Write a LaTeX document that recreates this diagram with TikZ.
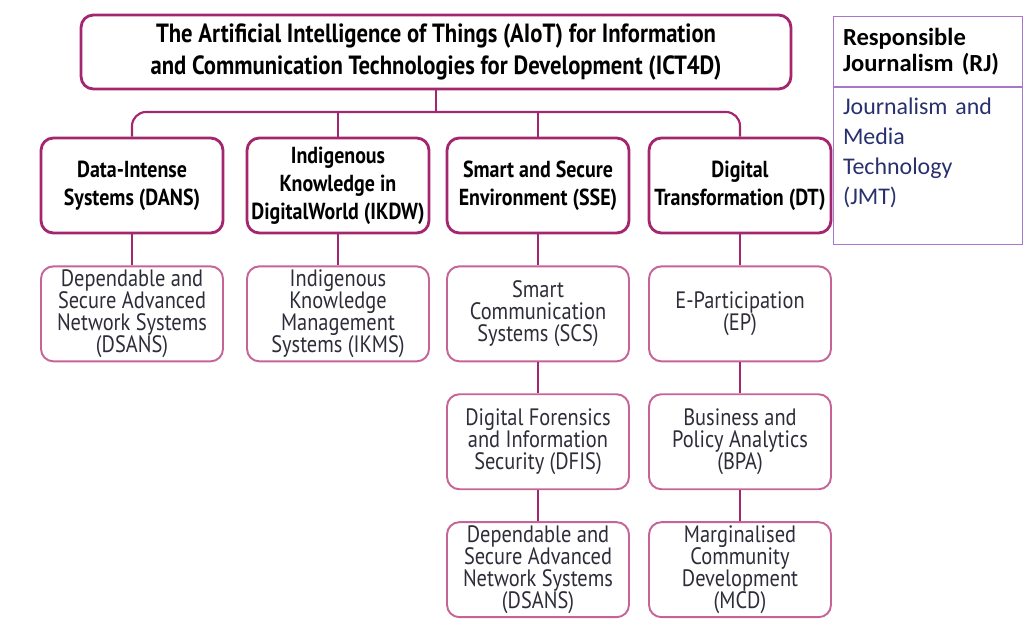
\documentclass[tikz,border=0pt]{standalone}
\usepackage{fontspec}
\setmainfont{PT Sans}[FakeStretch=0.86]
\newfontfamily\rjfont{Carlito}
\usepackage{tikz}
\usetikzlibrary{positioning}
\definecolor{plum}{RGB}{163, 38, 110}
\definecolor{lightplum}{RGB}{198, 100, 152}
\definecolor{lilac}{RGB}{165, 120, 205}
\definecolor{navy}{RGB}{40, 48, 110}
\definecolor{inkgrey}{RGB}{45, 45, 58}

\begin{document}
\begin{tikzpicture}[
  x=0.02cm, y=-0.02cm,
  node distance=0.62cm,
  mainbox/.style={rectangle, rounded corners=7pt, draw=plum, line width=1.6pt,
                  fill=white, align=center, minimum width=3.64cm,
                  minimum height=1.9cm, inner sep=2pt},
  topbox/.style={mainbox, minimum width=14.2cm, minimum height=1.48cm,
                 font=\bfseries\fontsize{15}{18.7}\selectfont},
  catbox/.style={mainbox, font=\bfseries\fontsize{13.2}{15.9}\selectfont},
  subbox/.style={mainbox, draw=lightplum, line width=1.1pt, text=inkgrey,
                 font=\fontsize{13.5}{12.5}\selectfont},
  link/.style={draw=plum, line width=1.2pt},
  rjbox/.style={rectangle, draw=lilac, line width=0.6pt, minimum width=3.78cm,
                text width=3.4cm, align=left, inner xsep=0.18cm}
]
  \useasboundingbox (0,0) rectangle (1024,628);

  %% Root
  \node[topbox] (aiot) at (436,52)
    {The Artificial Intelligence of Things (AIoT) for Information\\
     and Communication Technologies for Development (ICT4D)};

  %% Research areas
  \node[catbox] (dans) at (132,185.5) {Data-Intense\\ Systems (DANS)};
  \node[catbox] (ikdw) at (338,185.5) {Indigenous\\ Knowledge in\\ DigitalWorld (IKDW)};
  \node[catbox] (sse)  at (538,185.5) {Smart and Secure\\ Environment (SSE)};
  \node[catbox] (dt)   at (740,185.5) {Digital\\ Transformation (DT)};

  %% Research groups
  \node[subbox, below=of dans] (dsansA)
    {Dependable and\\ Secure Advanced\\ Network Systems\\ (DSANS)};
  \node[subbox, below=of ikdw] (ikms)
    {Indigenous\\ Knowledge\\ Management\\ Systems (IKMS)};
  \node[subbox, below=of sse] (scs)
    {Smart\\ Communication\\ Systems (SCS)};
  \node[subbox, below=of scs] (dfis)
    {Digital Forensics\\ and Information\\ Security (DFIS)};
  \node[subbox, below=of dfis] (dsansB)
    {Dependable and\\ Secure Advanced\\ Network Systems\\ (DSANS)};
  \node[subbox, below=of dt] (ep)
    {E-Participation\\ (EP)};
  \node[subbox, below=of ep] (bpa)
    {Business and\\ Policy Analytics\\ (BPA)};
  \node[subbox, below=of bpa] (mcd)
    {Marginalised\\ Community\\ Development\\ (MCD)};

  %% Tree connectors
  \coordinate (bus) at (436,112);
  \draw[link] (aiot.south) -- (bus);
  \draw[link, rounded corners=8pt] (dans.north) |- (bus) -| (dt.north);
  \draw[link] (ikdw.north) -- (ikdw.north |- bus);
  \draw[link] (sse.north) -- (sse.north |- bus);
  \draw[link] (dans) -- (dsansA);
  \draw[link] (ikdw) -- (ikms);
  \draw[link] (sse) -- (scs);
  \draw[link] (scs) -- (dfis);
  \draw[link] (dfis) -- (dsansB);
  \draw[link] (dt) -- (ep);
  \draw[link] (ep) -- (bpa);
  \draw[link] (bpa) -- (mcd);

  %% Responsible Journalism side box
  \node[rjbox, anchor=north west, minimum height=1.4cm,
        font=\rjfont\bfseries\fontsize{14}{14.5}\selectfont] (rj) at (833,16)
    {Responsible\\ Journalism (RJ)};
  \node[rjbox, below=0pt of rj, minimum height=3.14cm, text=navy,
        font=\rjfont\fontsize{13.6}{17}\selectfont] (jmt)
    {Journalism and\\ Media\\ Technology\\ (JMT)\\ \mbox{}};
\end{tikzpicture}
\end{document}
